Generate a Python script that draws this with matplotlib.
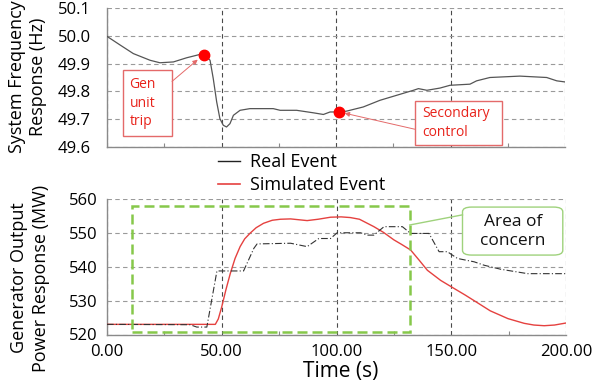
import matplotlib
matplotlib.use("Agg")
import matplotlib.pyplot as plt
from matplotlib.patches import Rectangle, FancyBboxPatch
from matplotlib.lines import Line2D

plt.rcParams["font.family"] = ["Open Sans", "DejaVu Sans"]

# --- System frequency, real event ---
freq_t = [0, 5.7, 11.5, 18.8, 23.1, 29, 34.8, 40.6, 42.5, 45, 46.4, 47.9, 49.3,
          50.8, 52.2, 53.7, 55.2, 58.1, 62.4, 72.6, 75.6, 82.8, 90.1, 94.5, 97.4,
          101.4, 104.6, 111.9, 119.2, 126.5, 133.8, 136, 139.7, 145.4, 149.8,
          158.5, 161.4, 167.2, 180.3, 192, 196.4, 200]
freq_hz = [49.998, 49.967, 49.936, 49.912, 49.903, 49.906, 49.921, 49.933, 49.932,
           49.912, 49.846, 49.762, 49.702, 49.678, 49.672, 49.684, 49.714, 49.732,
           49.738, 49.738, 49.732, 49.732, 49.723, 49.717, 49.726, 49.726, 49.729,
           49.744, 49.768, 49.786, 49.804, 49.810, 49.804, 49.812, 49.822, 49.826,
           49.838, 49.850, 49.855, 49.850, 49.838, 49.834]

# marked events on the frequency trace
trip_event = (42.5, 49.932)
secondary_event = (101.4, 49.726)

# --- Generator output power ---
real_t = [0, 36.2, 39.1, 43.5, 47.9, 59.5, 64, 65.4, 80, 87.2, 92.3, 97.4, 100.3,
          110.5, 113.4, 116.3, 120.7, 128.7, 132.3, 140.3, 144.7, 148.3, 152.7,
          160, 164.3, 171.6, 183.3, 200]
real_mw = [523.0, 522.9, 522.2, 522.2, 538.8, 538.8, 545.5, 546.8, 547.0, 546.0,
           548.4, 548.4, 550.1, 550.1, 549.4, 549.4, 551.9, 551.9, 549.9, 549.9,
           544.5, 544.5, 542.5, 541.5, 540.5, 539.3, 538.0, 538.0]

sim_t = [0, 47.2, 48.5, 50, 51.8, 53.7, 55.8, 58, 60, 62.4, 65, 68.2, 72, 75.6, 80,
         87.2, 92, 97.4, 102, 106, 110, 116.3, 120.5, 125, 128.5, 132.3, 136,
         139.6, 145.4, 151.3, 156, 160, 167, 174.7, 181.8, 186, 190.5, 195, 200]
sim_mw = [523.0, 523.0, 524.6, 528.2, 533.2, 538.0, 542.5, 546.0, 548.3, 550.0,
          551.6, 552.9, 553.8, 554.1, 554.2, 553.7, 554.1, 554.7, 554.8, 554.6,
          554.1, 551.9, 550.2, 548.0, 546.6, 545.0, 542.0, 539.0, 536.0, 533.6,
          531.7, 530.0, 527.0, 524.7, 523.3, 522.8, 522.6, 522.8, 523.4]

# highlighted window on the power plot
concern_t = (10.8, 131.9)
concern_mw = (520.6, 558.0)

x_ticks = [0, 50, 100, 150, 200]
x_minor = [25, 75, 125, 175]
x_ticklabels = ["0.00", "50.00", "100.00", "150.00", "200.00"]
freq_ticks = [49.6, 49.7, 49.8, 49.9, 50.0, 50.1]
mw_ticks = [520, 530, 540, 550, 560]

RED_LINE = "#e5413f"
RED_TEXT = "#e8231b"
RED_BOX = "#e46a6a"
GREEN = "#86c84a"
GREEN_BOX = "#9fd27c"

fig = plt.figure(figsize=(5.93, 3.91), dpi=100)
ax1 = fig.add_axes([107/593, 1-147/391, 458/593, 139/391])
ax2 = fig.add_axes([107/593, 1-334.5/391, 459/593, 135.2/391])


def style_axes(ax, yticks, ypad):
    ax.set_xlim(0, 200)
    ax.set_xticks(x_ticks)
    ax.set_xticks(x_minor, minor=True)
    ax.set_yticks(yticks)
    ax.set_ylim(yticks[0], yticks[-1])
    for s in ("top", "right"):
        ax.spines[s].set_visible(False)
    for s in ("left", "bottom"):
        ax.spines[s].set_color("#8a8a8a")
        ax.spines[s].set_linewidth(1.0)
    ax.tick_params(axis="both", which="major", length=0, labelsize=12)
    ax.tick_params(axis="y", pad=ypad)
    ax.tick_params(axis="x", which="minor", direction="in", length=3,
                   color="#8a8a8a", width=0.8)
    ax.grid(True, axis="y", linestyle=(0, (4, 3)), color="#9a9a9a", linewidth=0.8)
    ax.grid(True, axis="x", linestyle=(0, (4, 3)), color="#4a4a4a", linewidth=0.8)
    ax.set_axisbelow(True)


style_axes(ax1, freq_ticks, 11.5)
ax1.set_yticklabels([f"{v:.1f}" for v in freq_ticks])
ax1.tick_params(axis="x", labelbottom=False)

style_axes(ax2, mw_ticks, 7)
ax2.set_xticklabels(x_ticklabels)
ax2.tick_params(axis="x", pad=7)

# frequency trace and event markers
ax1.plot(freq_t, freq_hz, color="#555555", lw=0.9, zorder=3)
ax1.plot(*trip_event, "o", color="#ff0000", ms=7.5, zorder=4)
ax1.plot(*secondary_event, "o", color="#ff0000", ms=7.5, zorder=4)

# annotation boxes
gen_box = ((7.0, 49.640), 21.4, 0.237)
ax1.add_patch(Rectangle(*gen_box, fill=True, fc="white", ec=RED_BOX, lw=1.0,
                        zorder=5, clip_on=False))
ax1.text(9.8, 49.758, "Gen\nunit\ntrip", color=RED_TEXT, fontsize=10,
         ha="left", va="center", linespacing=1.3, zorder=6)
ax1.annotate("", xy=(trip_event[0] - 1.5, trip_event[1] - 0.008),
             xytext=(28.4, 49.836),
             arrowprops=dict(arrowstyle="-|>", color=RED_BOX, lw=0.7,
                             mutation_scale=7, shrinkA=0, shrinkB=3), zorder=6)

sec_box = ((134.4, 49.607), 38.0, 0.158)
ax1.add_patch(Rectangle(*sec_box, fill=True, fc="white", ec=RED_BOX, lw=1.0,
                        zorder=5, clip_on=False))
ax1.text(137.8, 49.686, "Secondary\ncontrol", color=RED_TEXT, fontsize=10,
         ha="left", va="center", linespacing=1.3, zorder=6)
ax1.annotate("", xy=secondary_event, xytext=(134.4, 49.664),
             arrowprops=dict(arrowstyle="-|>", color=RED_BOX, lw=0.7,
                             mutation_scale=7, shrinkA=0, shrinkB=4), zorder=6)

# power traces
ax2.plot(sim_t, sim_mw, color=RED_LINE, lw=1.0, zorder=3)
ax2.plot(real_t, real_mw, color="#333333", lw=0.8, linestyle=(0, (6, 2, 1, 2)),
         zorder=3)

ax2.add_patch(Rectangle((concern_t[0], concern_mw[0]),
                        concern_t[1] - concern_t[0], concern_mw[1] - concern_mw[0],
                        fill=False, ec=GREEN, lw=1.8, linestyle=(0, (4, 2)),
                        zorder=4, clip_on=False))

callout = FancyBboxPatch((154.9, 543.5), 43.7, 14.2,
                         boxstyle="round,pad=0,rounding_size=4",
                         mutation_aspect=0.35,
                         fc="white", ec=GREEN_BOX, lw=1.0, zorder=5, clip_on=False)
ax2.add_patch(callout)
ax2.text(176.8, 550.6, "Area of\nconcern", fontsize=12.5, ha="center", va="center",
         linespacing=1.25, color="#111111", zorder=6)
ax2.add_line(Line2D([concern_t[1], 154.9], [552.4, 555.4], color=GREEN_BOX, lw=1.0,
                    zorder=5, clip_on=False))

# labels
fig.text(27.5/593, 1-77/391, "System Frequency\nResponse (Hz)", rotation=90,
         ha="center", va="center", fontsize=13, linespacing=1.25,
         multialignment="center")
fig.text(30/593, 1-278/391, "Generator Output\nPower Response (MW)", rotation=90,
         ha="center", va="center", fontsize=13, linespacing=1.25,
         multialignment="center")
fig.text(341/593, 1-372/391, "Time (s)", ha="center", va="center", fontsize=15)

handles = [Line2D([], [], color="#222222", lw=1.0),
           Line2D([], [], color=RED_LINE, lw=1.2)]
fig.legend(handles, ["Real Event", "Simulated Event"], loc="upper left",
           bbox_to_anchor=(218/593, 1-153/391), frameon=False, fontsize=13,
           handlelength=1.2, handletextpad=0.55, labelspacing=0.3,
           borderpad=0, borderaxespad=0)

fig.savefig("out.png", dpi=100)
